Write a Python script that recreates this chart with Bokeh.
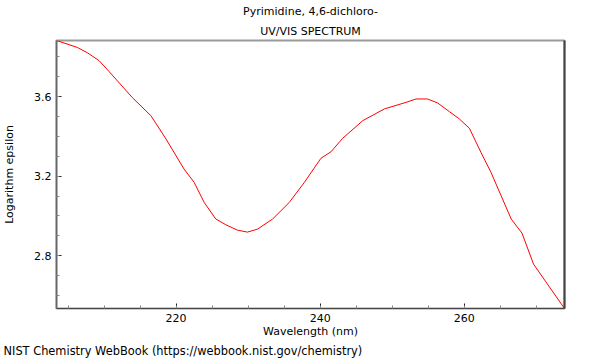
from bokeh.plotting import figure
from bokeh.models import (Range1d, FixedTicker, Title, LinearAxis)
from bokeh.embed import file_html
from bokeh.resources import INLINE

# Data
wavelength = [203.4, 206.3, 207.7, 209.3, 210.7, 213.9, 216.5, 218.6, 221.1, 222.5,
              223.9, 225.5, 226.9, 228.5, 229.9, 231.3, 233.4, 235.7, 237.8, 240.1,
              241.5, 243.1, 245.9, 248.9, 251.9, 253.3, 254.9, 256.3, 257.9, 259.3,
              260.7, 262.3, 263.7, 265.1, 266.5, 268.0, 269.6, 273.9]
log_eps = [3.882, 3.847, 3.820, 3.781, 3.726, 3.596, 3.504, 3.387, 3.236, 3.169,
           3.068, 2.985, 2.956, 2.929, 2.919, 2.934, 2.985, 3.068, 3.169, 3.290,
           3.323, 3.390, 3.479, 3.538, 3.571, 3.588, 3.588, 3.568, 3.525, 3.488,
           3.441, 3.320, 3.219, 3.102, 2.985, 2.914, 2.758, 2.535]

x_major = [220, 240, 260]
x_minor = [205, 210, 215, 220, 225, 230, 235, 240, 245, 250, 255, 260, 265, 270]
y_major = [2.8, 3.2, 3.6]
y_minor = [2.6, 2.7, 2.8, 2.9, 3.0, 3.1, 3.2, 3.3, 3.4, 3.5, 3.6, 3.7, 3.8]

FONT = "DejaVu Sans"
FS = "11px"

p = figure(width=580, height=350, output_backend="svg", toolbar_location=None,
           x_range=Range1d(min(wavelength), max(wavelength)),
           y_range=Range1d(min(log_eps), max(log_eps)),
           frame_width=508, frame_height=268,
           min_border_left=0, min_border_right=19, min_border_top=0,
           min_border_bottom=0)

p.line(wavelength, log_eps, line_color="#ff0000", line_width=1)

p.xgrid.visible = False
p.ygrid.visible = False
p.background_fill_color = "white"
p.border_fill_color = "white"
p.outline_line_color = "#9a9a9a"
p.outline_line_width = 2

# Titles (p.title is outermost)
p.title.text = "Pyrimidine, 4,6-dichloro-"
p.title.align = "center"
p.title.text_font = FONT
p.title.text_font_size = FS
p.title.text_font_style = "normal"
p.title.text_color = "#000000"
p.title.standoff = 4
p.add_layout(Title(text="UV/VIS SPECTRUM", align="center",
                   text_font=FONT, text_font_size=FS, text_font_style="normal",
                   text_color="#000000", standoff=6), "above")

# Axes
for ax, ticks, minors in ((p.xaxis[0], x_major, x_minor), (p.yaxis[0], y_major, y_minor)):
    ax.ticker = FixedTicker(ticks=ticks, minor_ticks=minors)
    ax.major_tick_in = 5
    ax.major_tick_out = 0
    ax.minor_tick_in = 3
    ax.minor_tick_out = 0
    ax.major_tick_line_color = "#222222"
    ax.minor_tick_line_color = "#888888"
    ax.major_label_text_font = FONT
    ax.major_label_text_font_size = FS
    ax.major_label_text_color = "#000000"
    ax.axis_label_text_font = FONT
    ax.axis_label_text_font_size = FS
    ax.axis_label_text_font_style = "normal"
    ax.axis_label_text_color = "#000000"
    ax.major_label_standoff = 5

p.xaxis[0].axis_label = "Wavelength (nm)"
p.xaxis[0].axis_label_standoff = 0
p.xaxis[0].axis_line_color = "#444444"
p.yaxis[0].axis_label = "Logarithm epsilon"
p.yaxis[0].axis_label_standoff = 15
p.yaxis[0].axis_line_color = "#666666"
p.yaxis[0].axis_line_width = 1.5

right = LinearAxis(major_tick_line_color=None, minor_tick_line_color=None,
                   major_label_text_font_size="0px", axis_line_color="#444444",
                   axis_line_width=2)
right.ticker = FixedTicker(ticks=[])
p.add_layout(right, "right")

p.add_layout(Title(text="NIST Chemistry WebBook (https://webbook.nist.gov/chemistry)",
                   align="left", offset=-53, standoff=2,
                   text_font=FONT, text_font_size="11.4px", text_font_style="normal",
                   text_color="#000000"), "below")

open("out.html", "w").write(file_html(p, INLINE))
